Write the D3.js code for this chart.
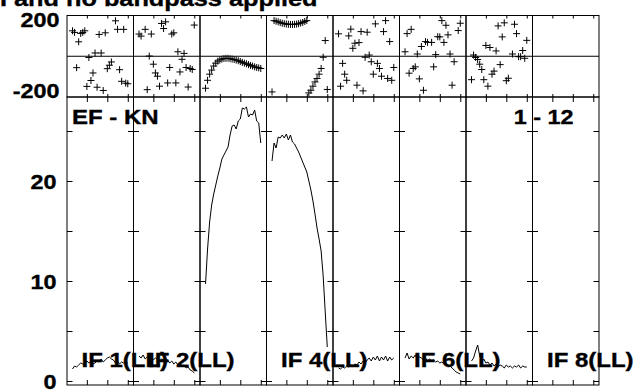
<!DOCTYPE html>
<html>
<head>
<meta charset="utf-8">
<script src="https://cdn.jsdelivr.net/npm/d3@7"></script>
<style>
  html, body { margin: 0; padding: 0; background: #fff; }
  svg { display: block; }
  text { font-family: "Liberation Sans", Arial, Helvetica, sans-serif; font-weight: bold; font-size: 20px; fill: #000; stroke: #000; stroke-width: 0.35px; }
</style>
</head>
<body>
<svg id="chart" width="636" height="392"></svg>
<script>
// Channels plotted in every IF (edge channels flagged)
const channels = d3.range(3, 31);

// Panel labels (odd IFs 3, 5, 7 carry no label)
const ifLabels = ["IF 1(LL)", "IF 2(LL)", "", "IF 4(LL)", "", "IF 6(LL)", "", "IF 8(LL)"];
const titleText = "I and no bandpass applied";
const baselineText = "EF - KN";
const timeText = "1 - 12";

// Tick values / labels
const ampTicks = [0, 5, 10, 15, 20, 25];
const ampTickLabels = [0, 10, 20];
const phaseTickLabels = [200, -200];
const chanTicks = [10, 20, 30];

// Amplitude per channel (Jy), channels 3..30
const ampIF1 = [1.2, 1.5, 1.4, 1.6, 1.8, 1.7, 1.6, 2.0, 1.8, 1.9, 1.7, 1.8, 2.0, 1.9, 2.2, 1.9, 2.1, 2.3, 2.4, 2.2, 2.1, 1.8, 2.0, 1.7, 1.9, 1.8, 1.9, 1.8];
const ampIF2 = [2.5, 2.3, 2.6, 2.2, 2.4, 2.3, 2.5, 2.1, 2.3, 2.2, 2.0, 2.2, 2.1, 1.9, 2.1, 1.8, 2.0, 1.7, 1.9, 1.6, 1.8, 1.5, 1.6, 1.3, 1.4, 1.1, 1.0, 0.8];
const ampIF3 = [9.7, 13.2, 15.9, 17.6, 18.7, 19.6, 20.5, 21.3, 22.2, 22.6, 23.0, 23.4, 24.6, 25.5, 25.6, 25.2, 26.0, 26.2, 27.3, 27.2, 27.4, 26.4, 26.7, 26.6, 27.1, 26.0, 25.8, 23.8];
const ampIF4 = [22.0, 23.8, 23.3, 24.4, 24.3, 24.6, 24.3, 24.7, 24.1, 24.6, 23.9, 23.7, 23.3, 22.9, 22.4, 21.9, 21.4, 20.9, 20.0, 19.1, 18.0, 16.7, 15.3, 14.2, 13.0, 10.5, 6.9, 3.4];
const ampIF5 = [1.3, 1.2, 1.4, 1.3, 1.5, 1.4, 1.6, 1.5, 1.7, 1.6, 1.9, 1.7, 2.0, 1.8, 2.1, 2.3, 2.0, 2.4, 2.1, 2.5, 2.0, 2.4, 2.1, 2.5, 2.0, 2.4, 2.1, 2.3];
const ampIF6 = [2.3, 2.8, 2.2, 2.5, 2.3, 2.6, 2.2, 2.4, 2.3, 2.1, 2.3, 2.0, 2.2, 2.0, 2.1, 1.9, 2.0, 1.8, 1.9, 1.7, 1.8, 1.6, 1.5, 1.3, 1.1, 0.9, 0.8, 0.7];
const ampIF7 = [2.0, 2.3, 3.0, 3.6, 2.5, 1.9, 2.2, 1.8, 1.9, 1.6, 1.8, 1.5, 1.7, 1.4, 1.6, 1.5, 1.3, 1.6, 1.4, 1.5, 1.3, 1.5, 1.4, 1.6, 1.3, 1.5, 1.4, 1.4];
const ampIF8 = [];

// Phase per channel (degrees), channels 3..30; null = flagged
const phaseIF1 = [125, 117, -56, 71, 112, 117, 125, -148, -6, -119, -82, 16, -152, 107, 16, -168, 115, -61, -44, -28, null, 174, 132, -66, -123, 132, -132, -135];
const phaseIF2 = [109, 99, null, 132, -164, 1, 109, -39, -82, -98, -147, 161, 136, 169, -131, -55, 109, 115, -131, 22, -77, -15, 14, -55, -151, -60, -65, 153];
const phaseIF3 = [-157, -118, -88, -68, -48, -34, -24, -18, -14, -11, -10, -10, -12, -14, -16, -19, -22, -26, -30, -34, -37, -41, -45, -48, -52, -55, -57, -60];
const phaseIF4 = [-175, 175, 172, 169, 165, 162, 160, 158, 157, 156, 156, 157, 158, 160, 163, 166, 171, 175, -180, -167, -147, -126, -109, -88, -60, -5, 77, -163];
const phaseIF5 = [110, -147, -35, -88, -118, 100, 133, 39, 64, -142, 67, 121, -170, -5, 118, 6, -27, -88, 159, -35, -60, -98, 121, 175, -109, 72, -118, -55];
const phaseIF6 = [22, 111, -83, 132, -60, -52, 11, -111, 48, -167, 72, 68, null, 68, -52, 8, 96, 95, 175, 68, 152, 105, 11, -142, -27, null, 126, 162];
const phaseIF7 = [-115, 6, -6, -16, -39, -65, -115, 53, -147, 43, -88, -73, 26, 149, -41, 95, 164, -120, -108, null, 11, 157, 111, -2, -2, 28, -10, 78];
const phaseIF8 = [];

const ampSeries = [ampIF1, ampIF2, ampIF3, ampIF4, ampIF5, ampIF6, ampIF7, ampIF8];
const phaseSeries = [phaseIF1, phaseIF2, phaseIF3, phaseIF4, phaseIF5, phaseIF6, phaseIF7, phaseIF8];

// ---- layout ----
const plotLeft = 67, plotRight = 599;
const nIF = ampSeries.length;
const panelW = (plotRight - plotLeft) / nIF;
const phTop = 15.5, phBottom = 97, ampTop = 97, ampBottom = 385;

const yPhase = d3.scaleLinear().domain([-200, 200]).range([phBottom, phTop]);
const yAmp = d3.scaleLinear().domain([-0.4, 28.4]).range([ampBottom, ampTop]);

const svg = d3.select("#chart");

function label(x, y, str, anchor, size, stretch) {
  svg.append("text")
    .attr("transform", `translate(${x},${y}) scale(${stretch || 1.17},1)`)
    .attr("text-anchor", anchor || "start")
    .style("font-size", (size || 20) + "px")
    .text(str);
}

const noDomain = g => g.select(".domain").remove();

for (let i = 0; i < nIF; i++) {
  const left = plotLeft + i * panelW;
  const right = left + panelW;
  const x = d3.scaleLinear().domain([0.3, 32.8]).range([left, right]);
  const g = svg.append("g");

  // frames
  g.append("rect").attr("x", left).attr("y", phTop).attr("width", panelW).attr("height", phBottom - phTop)
    .attr("fill", "none").attr("stroke", "#000").attr("stroke-width", 1);
  g.append("rect").attr("x", left).attr("y", ampTop).attr("width", panelW).attr("height", ampBottom - ampTop)
    .attr("fill", "none").attr("stroke", "#000").attr("stroke-width", 1);
  // zero-phase line
  g.append("line").attr("x1", left).attr("x2", right).attr("y1", yPhase(0)).attr("y2", yPhase(0))
    .attr("stroke", "#000").attr("stroke-width", 1);

  // amplitude ticks on both vertical edges
  g.append("g").attr("transform", `translate(${left},0)`)
    .call(d3.axisRight(yAmp).tickValues(ampTicks).tickSize(5.5).tickFormat(""))
    .call(noDomain);
  g.append("g").attr("transform", `translate(${right},0)`)
    .call(d3.axisLeft(yAmp).tickValues(ampTicks).tickSize(5.5).tickFormat(""))
    .call(noDomain);

  // channel ticks
  g.append("g").attr("transform", `translate(0,${phTop})`)
    .call(d3.axisBottom(x).tickValues(chanTicks).tickSize(3).tickFormat("")).call(noDomain);
  g.append("g").attr("transform", `translate(0,${phBottom})`)
    .call(d3.axisTop(x).tickValues(chanTicks).tickSize(3).tickFormat("")).call(noDomain);
  g.append("g").attr("transform", `translate(0,${ampTop})`)
    .call(d3.axisBottom(x).tickValues(chanTicks).tickSize(5).tickFormat("")).call(noDomain);
  g.append("g").attr("transform", `translate(0,${ampBottom})`)
    .call(d3.axisTop(x).tickValues(chanTicks).tickSize(5).tickFormat("")).call(noDomain);

  // phase crosses
  const ph = phaseSeries[i].map((p, k) => ({ ch: channels[k], p })).filter(d => d.p !== null);
  g.append("g").selectAll("path").data(ph).join("path")
    .attr("d", d => `M${x(d.ch) - 3.5},${yPhase(d.p)}H${x(d.ch) + 3.5}M${x(d.ch)},${yPhase(d.p) - 3.5}V${yPhase(d.p) + 3.5}`)
    .attr("stroke", "#000").attr("stroke-width", 1).attr("fill", "none");

  // amplitude spectrum
  const amp = ampSeries[i].map((a, k) => ({ ch: channels[k], a }));
  if (amp.length) {
    g.append("path").datum(amp)
      .attr("d", d3.line().x(d => x(d.ch)).y(d => yAmp(d.a)))
      .attr("fill", "none").attr("stroke", "#000").attr("stroke-width", 1);
  }
}

// IF labels
ifLabels.forEach((t, i) => {
  if (t) label(plotLeft + i * panelW + 14.5, 366.5, t, "start", 20, 1.2);
});

// axis labels
label(59.5, 26.5, String(phaseTickLabels[0]), "end");
label(59.5, 97.5, String(phaseTickLabels[1]), "end");
ampTickLabels.forEach(v => label(56.5, yAmp(v) + 7.5, String(v), "end"));

// titles
label(0, 5.5, titleText, "start", 22, 1.15);
label(72, 124, baselineText, "start", 20, 1.2);
label(573.5, 124, timeText, "end", 20, 1.17);
</script>
</body>
</html>
